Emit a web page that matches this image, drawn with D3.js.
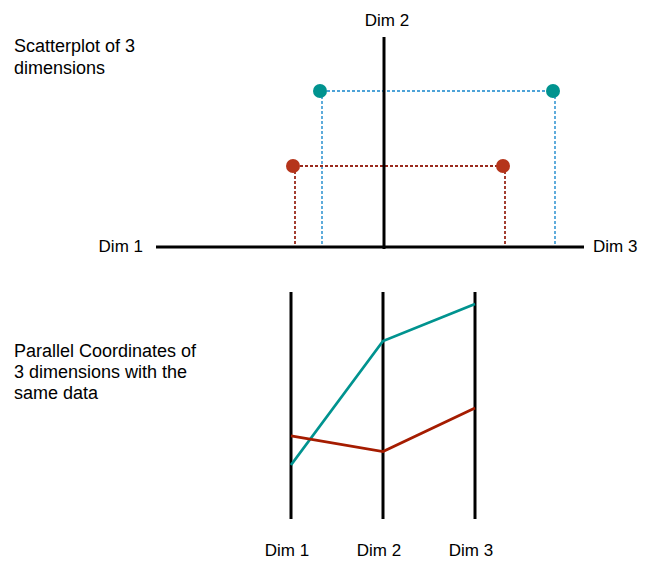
<!DOCTYPE html>
<html>
<head>
<meta charset="utf-8">
<script src="https://cdn.jsdelivr.net/npm/d3@7"></script>
<style>
html,body{margin:0;padding:0;background:#fff;}
svg{display:block;font-family:"Liberation Sans",Arial,Helvetica,sans-serif;}
</style>
</head>
<body>
<svg id="chart" width="652" height="561"></svg>
<script>
// ---- data ----
const dims = ["Dim 1", "Dim 2", "Dim 3"];
const seriesNames = ["teal", "red"];
const seriesColors = ["#00938f", "#b5341a"];
const dashColors = ["#4ea3d8", "#9a2a1c"];
const lineColors = ["#00938f", "#a51c00"];
// scatterplot values (distance from origin along each dimension)
const scatterDim1 = [62, 89];
const scatterDim2 = [156, 81];
const scatterDim3 = [171, 121];
// parallel coordinates values (0-100)
const parDim1 = [23.8, 36.6];
const parDim2 = [78.4, 29.7];
const parDim3 = [94.7, 48.9];
const scatterTitle = ["Scatterplot of 3", "dimensions"];
const parallelTitle = ["Parallel Coordinates of", "3 dimensions with the", "same data"];

const svg = d3.select("#chart");

// ---- scatterplot ----
const ox = 384, oy = 247;
const xLeft = d3.scaleLinear().domain([0, 228]).range([ox, ox - 228]);
const xRight = d3.scaleLinear().domain([0, 200]).range([ox, ox + 200]);
const yS = d3.scaleLinear().domain([0, 210]).range([oy, oy - 210]);

const gS = svg.append("g");
const pts = seriesNames.map((s, i) => ({
  i, d1: scatterDim1[i], d2: scatterDim2[i], d3: scatterDim3[i]
}));

// dashed guides
pts.forEach(p => {
  const c = dashColors[p.i];
  const y = yS(p.d2);
  const guides = [
    [xLeft(p.d1), y, xRight(p.d3), y],
    [xLeft(p.d1), y, xLeft(p.d1), oy],
    [xRight(p.d3), y, xRight(p.d3), oy]
  ];
  guides.forEach(g => gS.append("line")
    .attr("x1", g[0]).attr("y1", g[1]).attr("x2", g[2]).attr("y2", g[3])
    .attr("stroke", c).attr("stroke-width", 1.8).attr("stroke-dasharray", "3,2"));
});

// axes
gS.append("line").attr("x1", xLeft(228)).attr("x2", xRight(200)).attr("y1", oy).attr("y2", oy)
  .attr("stroke", "#000").attr("stroke-width", 3);
gS.append("line").attr("x1", ox).attr("x2", ox).attr("y1", yS(210)).attr("y2", oy + 2)
  .attr("stroke", "#000").attr("stroke-width", 3);

// dots
pts.forEach(p => {
  [xLeft(p.d1), xRight(p.d3)].forEach(x => gS.append("circle")
    .attr("cx", x - 2).attr("cy", yS(p.d2)).attr("r", 7).attr("fill", seriesColors[p.i]));
});

// axis labels
gS.append("text").attr("x", xLeft(228) - 13).attr("y", oy + 5).attr("text-anchor", "end")
  .attr("font-size", 17).text(dims[0]);
gS.append("text").attr("x", xRight(200) + 9).attr("y", oy + 5).attr("text-anchor", "start")
  .attr("font-size", 17).text(dims[2]);
gS.append("text").attr("x", ox + 3).attr("y", 26).attr("text-anchor", "middle")
  .attr("font-size", 17).text(dims[1]);

// titles
svg.append("text").attr("x", 14).attr("y", 52).attr("font-size", 18)
  .selectAll("tspan").data(scatterTitle).join("tspan")
  .attr("x", 14).attr("dy", (d, i) => i === 0 ? 0 : 21.5).text(d => d);
svg.append("text").attr("x", 14).attr("y", 357).attr("font-size", 18)
  .selectAll("tspan").data(parallelTitle).join("tspan")
  .attr("x", 14).attr("dy", (d, i) => i === 0 ? 0 : 21).text(d => d);

// ---- parallel coordinates ----
const xP = d3.scalePoint().domain(dims).range([291, 475]);
const yP = d3.scaleLinear().domain([0, 100]).range([519, 292]);
const gP = svg.append("g");

dims.forEach(d => gP.append("line")
  .attr("x1", xP(d)).attr("x2", xP(d)).attr("y1", yP(100)).attr("y2", yP(0))
  .attr("stroke", "#000").attr("stroke-width", 3));

const parRows = seriesNames.map((s, i) => [parDim1[i], parDim2[i], parDim3[i]]);
const line = d3.line().x((v, j) => xP(dims[j])).y(v => yP(v));
parRows.forEach((row, i) => gP.append("path")
  .attr("d", line(row)).attr("fill", "none")
  .attr("stroke", lineColors[i]).attr("stroke-width", 2.8));

dims.forEach(d => gP.append("text")
  .attr("x", xP(d) - 4).attr("y", 556).attr("text-anchor", "middle")
  .attr("font-size", 17).text(d));
</script>
</body>
</html>
